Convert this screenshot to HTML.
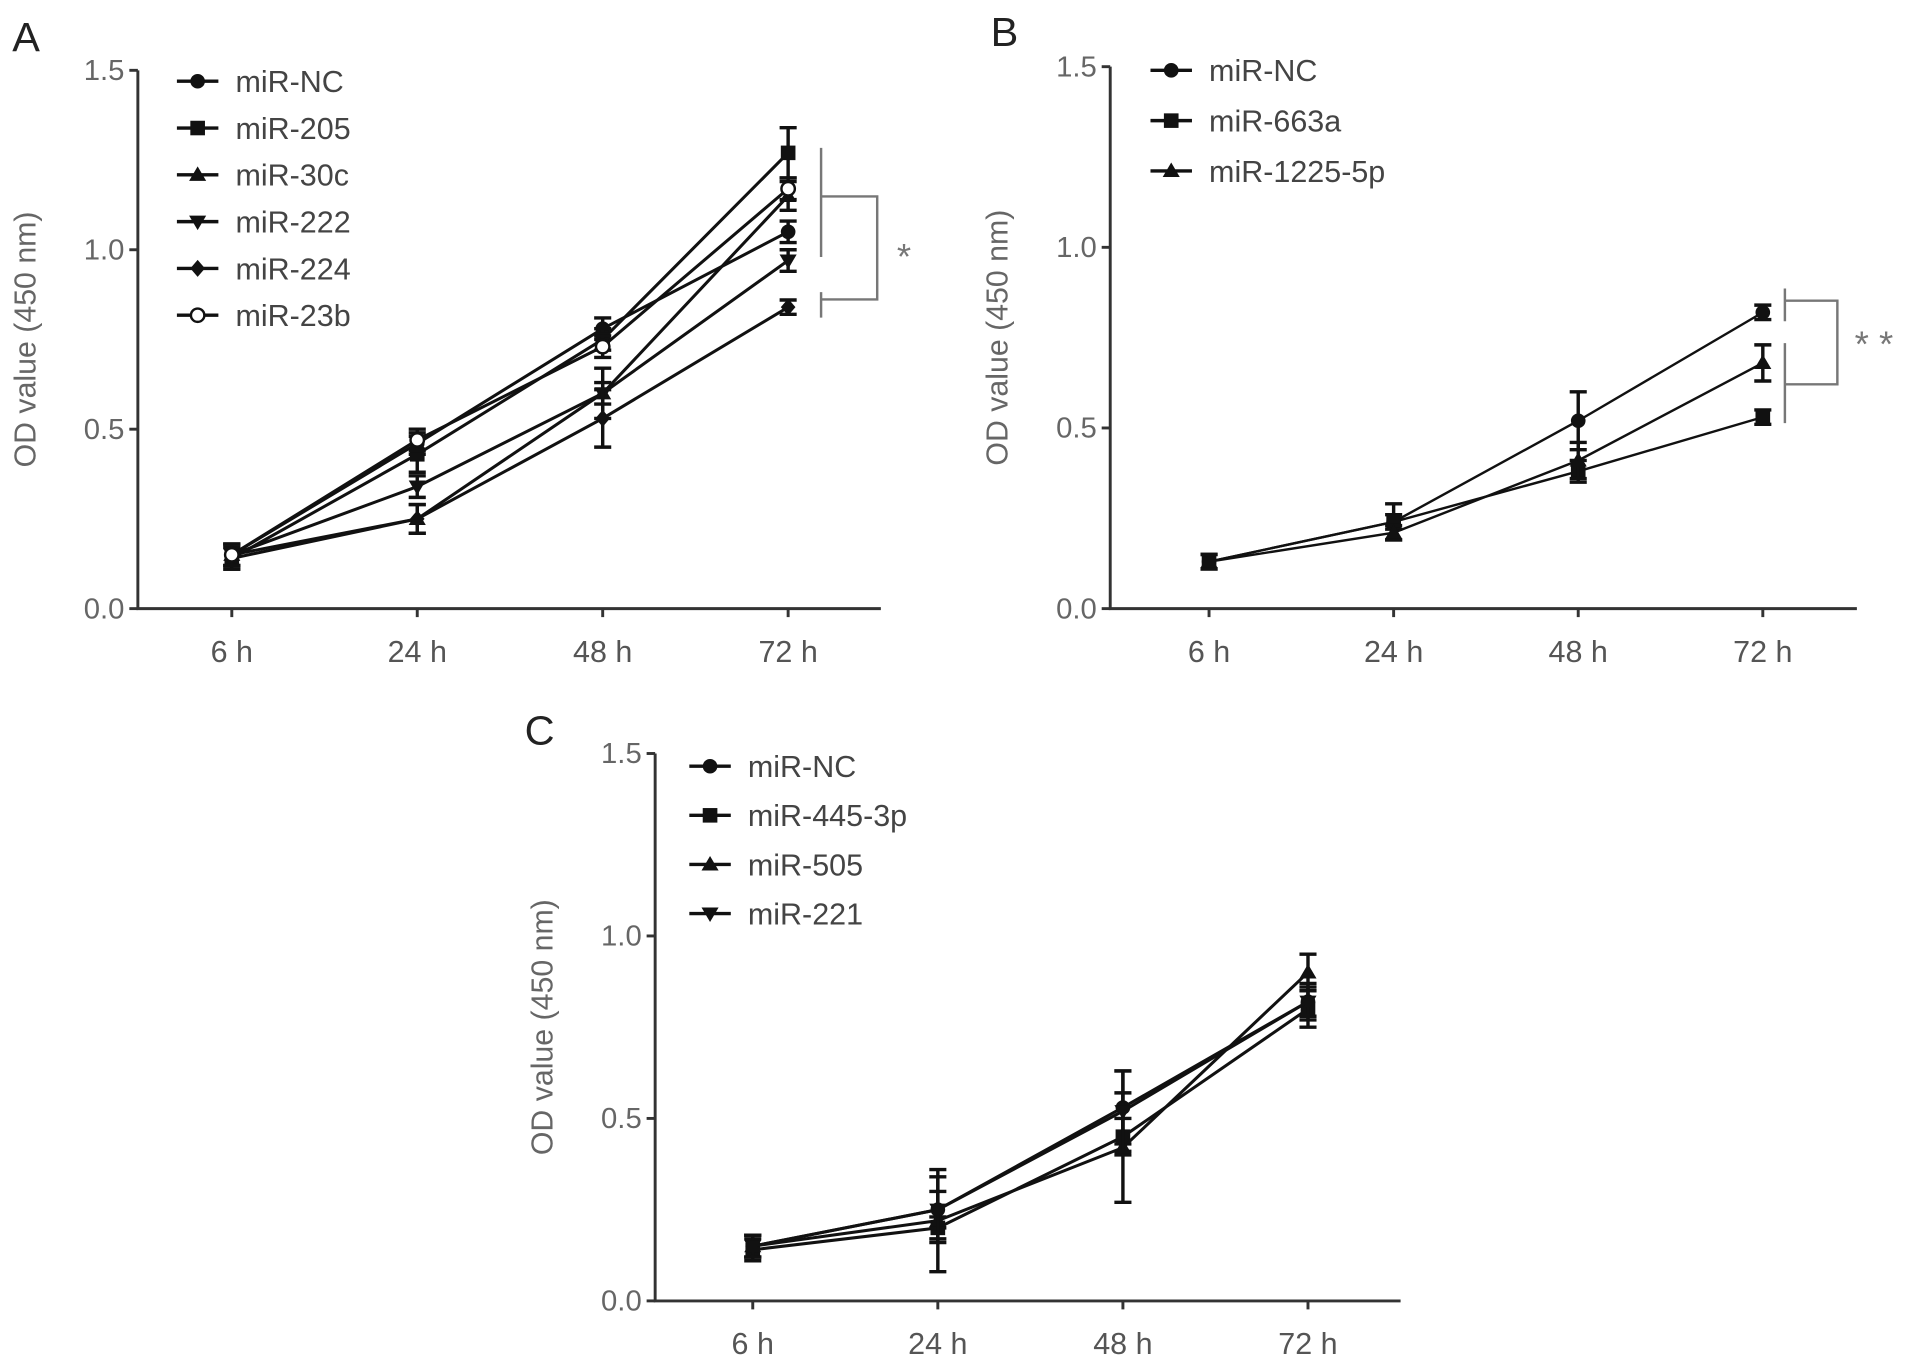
<!DOCTYPE html>
<html><head><meta charset="utf-8"><style>
html,body{margin:0;padding:0;background:#fff;}
svg{display:block;}
text{font-family:"Liberation Sans",sans-serif;}
</style></head><body>
<svg id="fig" width="1913" height="1370" viewBox="0 0 1568 1130" preserveAspectRatio="none" xmlns="http://www.w3.org/2000/svg"></svg>
<script>
const timeLabels = ["6 h","24 h","48 h","72 h"];
const yTicks = [0.0,0.5,1.0,1.5];

const seriesA = ["miR-NC","miR-205","miR-30c","miR-222","miR-224","miR-23b"];
const markersA = ["circle","square","triangle","down","diamond","open"];
const a_nc  = [0.15,0.46,0.78,1.05];
const a_205 = [0.14,0.43,0.75,1.27];
const a_30c = [0.15,0.25,0.60,1.15];
const a_222 = [0.15,0.34,0.60,0.97];
const a_224 = [0.14,0.25,0.53,0.84];
const a_23b = [0.15,0.47,0.73,1.17];
const errA = [[0.03,0.03,0.03,0.03],[0.03,0.05,0.03,0.07],[0.03,0.04,0.07,0.04],[0.03,0.03,0.03,0.03],[0.03,0.04,0.08,0.02],[0.03,0.03,0.03,0.03]];

const seriesB = ["miR-NC","miR-663a","miR-1225-5p"];
const markersB = ["circle","square","triangle"];
const b_nc   = [0.13,0.24,0.52,0.82];
const b_663a = [0.13,0.24,0.38,0.53];
const b_1225 = [0.13,0.21,0.41,0.68];
const errB = [[0.02,0.05,0.08,0.02],[0.02,0.02,0.03,0.02],[0.02,0.02,0.05,0.05]];

const seriesC = ["miR-NC","miR-445-3p","miR-505","miR-221"];
const markersC = ["circle","square","triangle","down"];
const c_nc  = [0.15,0.25,0.53,0.82];
const c_445 = [0.14,0.20,0.45,0.80];
const c_505 = [0.15,0.22,0.42,0.90];
const c_221 = [0.15,0.25,0.52,0.82];
const errC = [[0.03,0.05,0.10,0.05],[0.03,0.03,0.05,0.05],[0.03,0.14,0.15,0.05],[0.03,0.09,0.11,0.04]];

const NS="http://www.w3.org/2000/svg";
const svg=document.getElementById('fig');
function el(tag,attrs,parent){const e=document.createElementNS(NS,tag);for(const k in attrs)e.setAttribute(k,attrs[k]);(parent||svg).appendChild(e);return e;}

function marker(g,type,x,y){
  let m;
  if(type==="circle") m=el('circle',{cx:x,cy:y,r:6,fill:'#111'},g);
  else if(type==="open") m=el('circle',{cx:x,cy:y,r:5.5,fill:'#fff',stroke:'#111','stroke-width':2},g);
  else if(type==="square") m=el('rect',{x:x-6,y:y-6,width:12,height:12,fill:'#111'},g);
  else if(type==="triangle") m=el('polygon',{points:`${x},${y-7} ${x+7},${y+5} ${x-7},${y+5}`,fill:'#111'},g);
  else if(type==="down") m=el('polygon',{points:`${x},${y+7} ${x+7},${y-5} ${x-7},${y-5}`,fill:'#111'},g);
  else m=el('polygon',{points:`${x},${y-7} ${x+6},${y} ${x},${y+7} ${x-6},${y}`,fill:'#111'},g);
  
  
}

function panel(cfg){
  const g=el('g',{});
  
  
  const xs=i=>cfg.x0+i*cfg.dx;
  const ys=v=>cfg.yBase-v*cfg.yUnit;
  const lt=el('text',{x:cfg.lx,y:cfg.ly,'font-size':34,fill:'#222'},g);lt.textContent=cfg.letter;
  
  const ax=el('path',{d:`M${cfg.ax},${ys(1.5)} L${cfg.ax},${cfg.yBase} L${cfg.xEnd},${cfg.yBase}`,stroke:'#333','stroke-width':2.4,fill:'none'},g);
  
  yTicks.forEach(v=>{
    el('line',{x1:cfg.ax-7,x2:cfg.ax,y1:ys(v),y2:ys(v),stroke:'#333','stroke-width':2.4},g);
    const t=el('text',{x:cfg.ax-11,y:ys(v)+8,'font-size':24,fill:'#666','text-anchor':'end'},g);
    t.textContent=v.toFixed(1);
    
  });
  timeLabels.forEach((l,i)=>{
    el('line',{x1:xs(i),x2:xs(i),y1:cfg.yBase,y2:cfg.yBase+7,stroke:'#333','stroke-width':2.4},g);
    const t=el('text',{x:xs(i),y:cfg.yBase+44,'font-size':25,fill:'#555','text-anchor':'middle'},g);
    t.textContent=l;
    
  });
  const yt=el('text',{x:0,y:0,'font-size':25,fill:'#666','text-anchor':'middle',transform:`translate(${cfg.ax-84},${ys(0.75)}) rotate(-90)`},g);
  yt.textContent='OD value (450 nm)';
  
  cfg.data.forEach((vals,s)=>{
    const sg=el('g',{},g);
    
    
    const line=el('polyline',{points:vals.map((v,i)=>xs(i)+','+ys(v)).join(' '),fill:'none',stroke:'#111','stroke-width':cfg.lw},sg);
    
    vals.forEach((v,i)=>{
      const e=cfg.err[s][i];
      const eb=el('path',{d:`M${xs(i)},${ys(v+e)} L${xs(i)},${ys(v-e)} M${xs(i)-7},${ys(v+e)} L${xs(i)+7},${ys(v+e)} M${xs(i)-7},${ys(v-e)} L${xs(i)+7},${ys(v-e)}`,stroke:'#111','stroke-width':2.8,fill:'none'},sg);
      
      marker(sg,cfg.markers[s],xs(i),ys(v));
    });
  });
  cfg.names.forEach((n,s)=>{
    const ly=cfg.legY+s*cfg.legDy;
    const lg=el('g',{},g);
    
    
    el('line',{x1:cfg.legX-17,x2:cfg.legX+17,y1:ly,y2:ly,stroke:'#111','stroke-width':2.8},lg);
    marker(lg,cfg.markers[s],cfg.legX,ly);
    const t=el('text',{x:cfg.legX+31,y:ly+9,'font-size':25,fill:'#444'},lg);t.textContent=n;
  });
  return g;
}

panel({letter:'A',lx:10,ly:42,ax:113,xEnd:722,x0:190,dx:152,yBase:502,yUnit:296,lw:2.5,
  data:[a_nc,a_205,a_30c,a_222,a_224,a_23b],err:errA,names:seriesA,markers:markersA,legX:162,legY:67,legDy:38.6});
panel({letter:'B',lx:812,ly:38,ax:910,xEnd:1522,x0:991,dx:151.3,yBase:502,yUnit:298,lw:2,
  data:[b_nc,b_663a,b_1225],err:errB,names:seriesB,markers:markersB,legX:960,legY:58,legDy:41.5});
panel({letter:'C',lx:430,ly:614,ax:537,xEnd:1148,x0:617,dx:151.7,yBase:1073,yUnit:301,lw:2.5,
  data:[c_nc,c_445,c_505,c_221],err:errC,names:seriesC,markers:markersC,legX:582,legY:632,legDy:40.5});

const sa=el('path',{d:'M673,122 L673,212 M673,241 L673,262 M673,162 L719,162 L719,247 L673,247',stroke:'#777','stroke-width':2,fill:'none'});

const ta=el('text',{x:741,y:222,'font-size':30,fill:'#777','text-anchor':'middle'});ta.textContent='*';

const sb=el('path',{d:'M1463,238 L1463,265 M1463,283 L1463,349 M1463,248 L1506,248 L1506,317 L1463,317',stroke:'#777','stroke-width':2,fill:'none'});

const tb=el('text',{x:1536,y:294,'font-size':30,fill:'#777','text-anchor':'middle'});tb.textContent='* *';

</script>
</body></html>
